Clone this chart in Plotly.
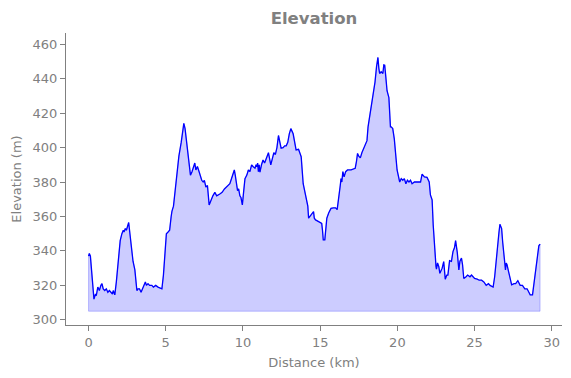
import plotly.graph_objects as go

distance_km = [
    0.0, 0.05, 0.12, 0.2, 0.3, 0.35, 0.45, 0.5, 0.6, 0.7, 0.8, 0.87, 0.95, 1.05, 1.15, 1.25, 1.35, 1.45, 1.55, 1.6,
    1.7, 1.8, 1.95, 2.05, 2.16, 2.25, 2.3, 2.38, 2.45, 2.55, 2.6, 2.68, 2.8, 2.88, 3.0, 3.13, 3.2, 3.3, 3.4, 3.5,
    3.6, 3.68, 3.75, 3.85, 3.95, 4.1, 4.2, 4.35, 4.5, 4.65, 4.75, 4.85, 4.95, 5.04, 5.15, 5.25, 5.35, 5.4, 5.5, 5.69,
    5.85, 6.0, 6.1, 6.17, 6.25, 6.34, 6.45, 6.55, 6.6, 6.7, 6.8, 6.88, 6.95, 7.05, 7.16, 7.25, 7.33, 7.42, 7.5, 7.6,
    7.7, 7.81, 7.9, 7.96, 8.05, 8.18, 8.3, 8.5, 8.65, 8.8, 9.05, 9.15, 9.26, 9.35, 9.44, 9.5, 9.65, 9.72, 9.8, 9.87,
    9.96, 10.05, 10.13, 10.25, 10.35, 10.45, 10.56, 10.65, 10.78, 10.85, 10.9, 10.95, 11.0, 11.05, 11.1, 11.2, 11.3, 11.4, 11.5, 11.65,
    11.8, 11.9, 12.0, 12.1, 12.2, 12.3, 12.4, 12.47, 12.6, 12.7, 12.8, 12.9, 13.0, 13.1, 13.25, 13.35, 13.44, 13.6, 13.7, 13.77,
    13.9, 14.0, 14.1, 14.2, 14.25, 14.4, 14.5, 14.57, 14.62, 14.7, 14.9, 15.1, 15.15, 15.2, 15.3, 15.35, 15.43, 15.55, 15.7, 15.85,
    16.0, 16.1, 16.2, 16.3, 16.35, 16.4, 16.47, 16.55, 16.65, 16.77, 17.0, 17.27, 17.35, 17.42, 17.5, 17.6, 17.7, 17.8, 17.9, 18.03,
    18.1, 18.25, 18.35, 18.42, 18.55, 18.65, 18.74, 18.8, 18.85, 18.95, 19.06, 19.12, 19.18, 19.25, 19.33, 19.45, 19.55, 19.6, 19.7, 19.8,
    19.9, 19.98, 20.15, 20.25, 20.35, 20.45, 20.55, 20.65, 20.75, 20.85, 20.95, 21.1, 21.3, 21.5, 21.6, 21.75, 21.92, 22.06, 22.14, 22.25,
    22.32, 22.4, 22.5, 22.53, 22.6, 22.68, 22.75, 22.9, 23.0, 23.1, 23.2, 23.27, 23.38, 23.5, 23.6, 23.7, 23.77, 23.88, 23.98, 24.05,
    24.15, 24.22, 24.3, 24.45, 24.55, 24.7, 24.8, 24.9, 25.0, 25.17, 25.3, 25.45, 25.6, 25.75, 25.9, 26.0, 26.2, 26.3, 26.36, 26.5,
    26.58, 26.64, 26.75, 26.82, 26.9, 27.0, 27.05, 27.1, 27.2, 27.3, 27.4, 27.55, 27.66, 27.8, 27.88, 27.95, 28.1, 28.25, 28.4, 28.5,
    28.6, 28.75, 28.9, 29.03, 29.1, 29.16, 29.24,
]

elevation_m = [
    337, 338.5, 337, 328, 314, 312, 315, 314, 319, 317, 320, 321, 318, 317, 318, 316, 317, 316, 315, 317,
    314.5, 322, 339, 346, 350, 352, 351, 353, 352, 355, 356.5, 350, 341, 334, 329, 317, 318, 318, 316, 318,
    320, 322, 320, 321, 320, 320, 319, 320, 319, 318.5, 318, 326, 340, 350, 351, 352, 360, 363, 366, 383,
    395, 403, 410, 414, 411, 403, 395, 386, 384, 386, 389, 391, 387, 389, 386, 383, 381, 380, 381, 377,
    378, 366.7, 369, 370.5, 372, 374, 372, 373, 374, 376, 378, 379, 382, 384, 387, 384, 375, 376, 372, 371,
    366.7, 375, 382, 384, 387, 386, 390, 389, 388, 390, 388.9, 391, 386, 390, 385.7, 390, 392.8, 391, 393, 397,
    390, 394, 397, 396, 400, 407, 402, 399.7, 400, 401, 401, 403, 408, 411, 408, 402, 398.6, 399, 397, 394.7,
    379, 375, 369.6, 366, 359, 361, 362, 362.8, 359, 358, 357, 356, 352, 346.4, 346.4, 353, 359, 362, 364.7, 365,
    365, 364, 370, 378, 382, 380, 386, 383, 386, 387, 387, 388, 392, 396.6, 395, 394, 397, 399.5, 401, 404,
    412, 421, 427, 431, 438, 447, 452.3, 446, 443, 444, 443, 448, 447.8, 441, 433, 429, 412, 412, 411, 405,
    395, 387, 380, 382, 381, 382, 379, 381, 380, 381, 379, 380, 380, 380, 384.6, 383, 382.7, 380, 372.5, 369.6,
    355, 340.6, 331, 329.4, 333, 331, 327, 330, 333.8, 323.6, 326, 326, 334.4, 334, 339.6, 342, 346, 339, 329, 334,
    335.8, 332, 324, 325, 326, 325, 326, 325, 324, 323.6, 323, 323, 322, 320, 321, 320, 319, 325, 331, 347,
    351, 355.5, 353, 345, 336.7, 329, 333, 332, 328, 323, 320.3, 321, 321, 322.7, 321, 320, 320, 318, 318, 316,
    314.5, 314.5, 326, 336.7, 341, 343, 344,
]

fill_base_m = 305
x_ticks = [0, 5, 10, 15, 20, 25, 30]
y_ticks = [300, 320, 340, 360, 380, 400, 420, 440, 460]

GRAY = "#808080"
FONT = "DejaVu Sans"

fig = go.Figure()

# filled area polygon (like fill_between down to base)
poly_x = [distance_km[0]] + distance_km + [distance_km[-1], distance_km[0]]
poly_y = [fill_base_m] + elevation_m + [fill_base_m, fill_base_m]
fig.add_trace(go.Scatter(
    x=poly_x, y=poly_y, mode="lines", fill="toself",
    fillcolor="rgba(0,0,255,0.2)",
    line=dict(color="rgba(0,0,255,0.22)", width=1),
    hoverinfo="skip", showlegend=False,
))

fig.add_trace(go.Scatter(
    x=distance_km, y=elevation_m, mode="lines",
    line=dict(color="#0000ff", width=1.3),
    showlegend=False,
))

axis_common = dict(
    showgrid=False, zeroline=False, showline=True, linecolor=GRAY, linewidth=1,
    ticks="outside", ticklen=5, tickwidth=1, tickcolor=GRAY,
    tickfont=dict(family=FONT, size=13, color=GRAY),
    mirror=False, automargin=False,
)

fig.update_layout(
    width=571, height=378,
    margin=dict(l=66, r=9, t=33, b=53),
    paper_bgcolor="white", plot_bgcolor="white",
    title=dict(text="<b>Elevation</b>", xref="paper", x=0.5, xanchor="center",
               yref="container", y=0.968, yanchor="top",
               font=dict(family=FONT, size=16.5, color=GRAY)),
    xaxis=dict(range=[-1.46, 30.66], tickvals=x_ticks,
               title=dict(text="Distance (km)", font=dict(family=FONT, size=13, color=GRAY), standoff=9),
               **axis_common),
    yaxis=dict(range=[297, 466.5], tickvals=y_ticks,
               title=dict(text="Elevation (m)", font=dict(family=FONT, size=13, color=GRAY), standoff=8),
               **axis_common),
)

fig.write_html("out.html", config={"displayModeBar": False},
               post_script="document.body.style.margin='0';document.body.style.padding='0';")
